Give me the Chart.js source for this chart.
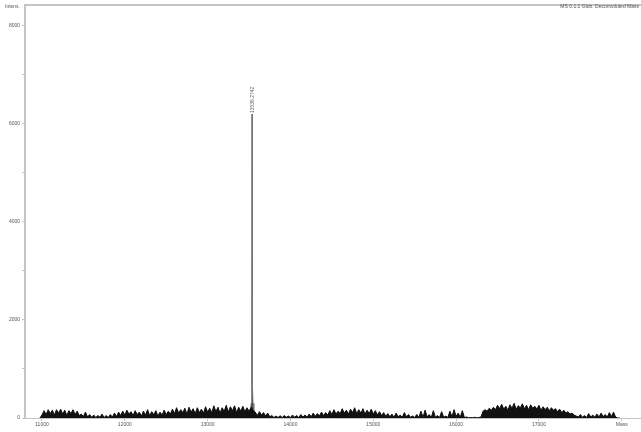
<!DOCTYPE html>
<html>
<head>
<meta charset="utf-8">
<script src="https://cdn.jsdelivr.net/npm/chart.js@4"></script>
<style>
  body { margin: 0; background: #fff; }
  #wrap { position: relative; width: 641px; height: 432px; }
  .note { position: absolute; font: 5px "Liberation Sans", Arial, sans-serif; color: #555; white-space: nowrap; }
</style>
</head>
<body>
<div id="wrap">
  <canvas id="spec" width="641" height="432"></canvas>
  <div class="note" style="left:5px;top:3px;">Intens.</div>
  <div class="note" style="right:2px;top:3px;">MS 0.1.1 Glob. Deconvoluted Mass</div>
</div>
<script>
// baseline noise, sampled every 25 Da from 10975
const noiseStart = 10975;
const noiseStep = 25;
const noiseIntens = [
  0, 60, 150, 70, 170, 90, 160, 60, 170, 100, 180, 80, 160, 50, 150, 90, 170, 70, 140, 50,
  80, 30, 120, 20, 70, 15, 60, 10, 50, 15, 80, 10, 50, 10, 70, 20, 100, 30, 120, 50,
  140, 60, 160, 80, 130, 50, 150, 70, 120, 40, 140, 60, 170, 50, 130, 70, 150, 40, 120, 60,
  160, 70, 140, 80, 180, 90, 210, 100, 170, 110, 200, 80, 220, 120, 190, 90, 210, 110, 180, 100,
  230, 120, 200, 110, 250, 130, 220, 100, 210, 140, 260, 120, 230, 150, 250, 110, 220, 140, 240, 130,
  210, 140, 220, 160, 120, 50, 130, 60, 110, 40, 100, 25, 50, 10, 40, 10, 45, 10, 50, 15,
  40, 10, 60, 15, 50, 10, 70, 20, 60, 15, 80, 25, 100, 35, 90, 45, 120, 50, 110, 60,
  150, 70, 170, 80, 140, 90, 190, 100, 160, 80, 180, 110, 210, 90, 170, 100, 190, 80, 160, 90,
  180, 80, 150, 60, 130, 50, 110, 35, 90, 25, 80, 15, 100, 25, 60, 15, 110, 25, 70, 15,
  40, 10, 70, 10, 140, 15, 160, 25, 70, 10, 150, 15, 50, 10, 130, 15, 40, 10, 140, 25,
  170, 35, 100, 15, 150, 10, 20, 5, 10, 5, 15, 5, 10, 20, 140, 170, 140, 200, 160, 220,
  170, 260, 190, 280, 180, 240, 160, 270, 200, 300, 180, 250, 210, 290, 190, 260, 170, 270, 200, 240,
  180, 260, 160, 230, 170, 220, 150, 210, 160, 190, 130, 180, 110, 160, 100, 130, 80, 100, 60, 40,
  20, 70, 15, 50, 10, 90, 20, 60, 15, 80, 20, 100, 30, 70, 20, 110, 30, 120, 20, 0,
  0
];

// the deconvoluted peak
const peakMass = [13515, 13525, 13530, 13534, 13536, 13538, 13542, 13548, 13558];
const peakIntens = [0, 300, 800, 850, 6200, 820, 700, 300, 0];
const peakLabel = "13536.2742";

const yTicks = [0, 1000, 2000, 3000, 4000, 5000, 6000, 7000, 8000];
const yTicksShown = [0, 2000, 4000, 6000, 8000];
const xTicks = [11000, 12000, 13000, 14000, 15000, 16000, 17000, 18000];
const xEndLabel = "Mass";

const noisePts = noiseIntens.map((v, i) => ({ x: noiseStart + i * noiseStep, y: v }));
const peakPts = peakMass.map((m, i) => ({ x: m, y: peakIntens[i] }));

const axisGray = "#c4c4c4";
const tickFont = { family: "Liberation Sans", size: 5 };

const peakLabelPlugin = {
  id: "peakLabel",
  afterDatasetsDraw(chart) {
    const ctx = chart.ctx;
    const xs = chart.scales.x;
    const ys = chart.scales.y;
    const i = peakIntens.indexOf(Math.max(...peakIntens));
    const px = xs.getPixelForValue(peakMass[i]);
    const py = ys.getPixelForValue(peakIntens[i]);
    ctx.save();
    ctx.translate(px + 1, py - 1);
    ctx.rotate(-Math.PI / 2);
    ctx.font = "5px Liberation Sans";
    ctx.fillStyle = "#666";
    ctx.textAlign = "left";
    ctx.textBaseline = "middle";
    ctx.fillText(peakLabel, 0, 0);
    ctx.restore();
    // top frame line
    ctx.save();
    ctx.strokeStyle = axisGray;
    ctx.lineWidth = 2;
    ctx.beginPath();
    ctx.moveTo(chart.chartArea.left, chart.chartArea.top);
    ctx.lineTo(chart.chartArea.right, chart.chartArea.top);
    ctx.stroke();
    ctx.restore();
  }
};

new Chart(document.getElementById("spec"), {
  type: "line",
  data: {
    datasets: [
      { label: "noise", data: noisePts, borderColor: "#111", backgroundColor: "#111", borderWidth: 1, fill: "origin", pointRadius: 0, tension: 0 },
      { label: "peak", data: peakPts, borderColor: "#777", backgroundColor: "#333", borderWidth: 1, fill: "origin", pointRadius: 0, tension: 0 },
    ],
  },
  options: {
    responsive: false,
    animation: false,
    devicePixelRatio: 1,
    layout: { padding: { top: 2, right: 0, left: 0, bottom: 0 } },
    plugins: { legend: { display: false }, tooltip: { enabled: false } },
    scales: {
      x: {
        type: "linear",
        min: 10795,
        max: 18232,
        afterFit(s) { s.height = 14; },
        afterBuildTicks(s) { s.ticks = xTicks.map((v) => ({ value: v })); },
        ticks: {
          font: tickFont,
          color: "#555",
          padding: 1,
          maxRotation: 0,
          autoSkip: false,
          callback: (v) => (v === 18000 ? xEndLabel : String(v)),
        },
        grid: { drawOnChartArea: false, tickLength: 3, color: axisGray },
        border: { color: axisGray, width: 1 },
      },
      y: {
        min: 0,
        max: 8425,
        afterFit(s) { s.width = 25; },
        afterBuildTicks(s) { s.ticks = yTicks.map((v) => ({ value: v })); },
        ticks: {
          font: tickFont,
          color: "#555",
          padding: 2,
          autoSkip: false,
          callback: (v) => (yTicksShown.includes(v) ? String(v) : ""),
        },
        grid: { drawOnChartArea: false, tickLength: 3, color: axisGray },
        border: { color: axisGray, width: 2 },
      },
    },
  },
  plugins: [peakLabelPlugin],
});
</script>
</body>
</html>
